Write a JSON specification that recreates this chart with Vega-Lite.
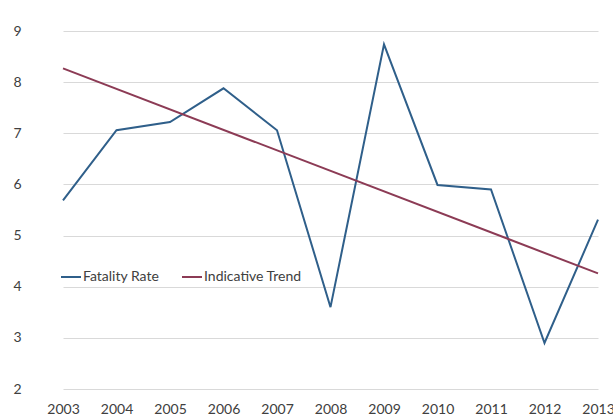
{
  "$schema": "https://vega.github.io/schema/vega-lite/v6.json",
  "width": 577,
  "height": 358,
  "autosize": {"type": "none"},
  "padding": {"left": 36, "top": 31, "right": 0, "bottom": 27},
  "background": "white",
  "config": {
    "view": {"stroke": null},
    "font": "Lato",
    "axis": {"labelFont": "Lato", "labelFontSize": 14, "labelColor": "#404040", "domain": false, "ticks": false, "gridColor": "#d9d9d9", "gridWidth": 1.2}
  },
  "data": {"values": [
    {"Year": "2003", "Value": 5.69, "Series": "Fatality Rate"},
    {"Year": "2004", "Value": 7.06, "Series": "Fatality Rate"},
    {"Year": "2005", "Value": 7.22, "Series": "Fatality Rate"},
    {"Year": "2006", "Value": 7.88, "Series": "Fatality Rate"},
    {"Year": "2007", "Value": 7.06, "Series": "Fatality Rate"},
    {"Year": "2008", "Value": 3.6, "Series": "Fatality Rate"},
    {"Year": "2009", "Value": 8.74, "Series": "Fatality Rate"},
    {"Year": "2010", "Value": 5.99, "Series": "Fatality Rate"},
    {"Year": "2011", "Value": 5.9, "Series": "Fatality Rate"},
    {"Year": "2012", "Value": 2.9, "Series": "Fatality Rate"},
    {"Year": "2013", "Value": 5.31, "Series": "Fatality Rate"},
    {"Year": "2003", "Value": 8.27, "Series": "Indicative Trend"},
    {"Year": "2013", "Value": 4.26, "Series": "Indicative Trend"}
  ]},
  "mark": {"type": "line", "strokeWidth": 2},
  "encoding": {
    "x": {
      "field": "Year", "type": "ordinal", "title": null,
      "scale": {"type": "point", "padding": 0, "range": [27, 562], "domain": ["2003","2004","2005","2006","2007","2008","2009","2010","2011","2012","2013"]},
      "axis": {"labelAngle": 0, "grid": false, "labelPadding": 13}
    },
    "y": {
      "field": "Value", "type": "quantitative", "title": null,
      "scale": {"domain": [2, 9], "nice": false, "zero": false},
      "axis": {"values": [2,3,4,5,6,7,8,9], "labelPadding": 15, "grid": true}
    },
    "color": {
      "field": "Series", "type": "nominal",
      "scale": {"domain": ["Fatality Rate", "Indicative Trend"], "range": ["#2f5f8a", "#8c3b55"]},
      "legend": {
        "title": null, "orient": "none", "direction": "horizontal",
        "legendX": 24, "legendY": 235, "padding": 0,
        "symbolType": "stroke", "symbolSize": 400, "symbolStrokeWidth": 2,
        "labelFont": "Lato", "labelFontSize": 14, "labelColor": "#404040",
        "labelOffset": 1, "columnPadding": 18
      }
    }
  }
}
